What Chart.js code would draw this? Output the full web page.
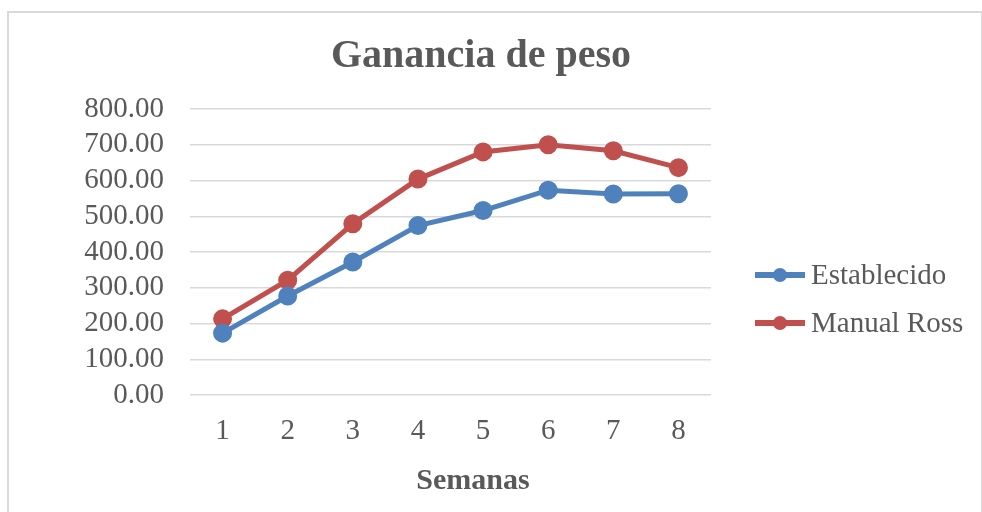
<!DOCTYPE html>
<html>
<head>
<meta charset="utf-8">
<script src="https://cdn.jsdelivr.net/npm/chart.js@4/dist/chart.umd.min.js"></script>
<style>
  body { margin: 0; background: #fff; }
  #frame { position: absolute; left: 7px; top: 11px; width: 972px; height: 520px; border: 2px solid #d9d9d9; }
  #wrap { position: absolute; left: 0; top: 0; width: 982px; height: 512px; }
</style>
</head>
<body>
<div id="frame"></div>
<div id="wrap"><canvas id="chartOne"></canvas></div>
<script>
/* Ganancia de peso por semana */
const semanas = ['1', '2', '3', '4', '5', '6', '7', '8'];
const establecido = [173, 277, 372, 474, 516, 573, 562, 563];
const manualRoss = [213, 321, 479, 604, 680, 700, 683, 636];
const yTicks = [0, 100, 200, 300, 400, 500, 600, 700, 800];

const gris = '#595959';
const fuente = 'Liberation Serif';

// legend drawn by hand so the marker can be a line with a dot on it
const legendLineDot = {
    id: 'legendLineDot',
    afterDraw(chart) {
        const ctx = chart.ctx;
        const area = chart.chartArea;
        ctx.save();
        chart.data.datasets.forEach((ds, i) => {
            const x = area.right + 44;
            const y = area.top + 166 + i * 48;
            ctx.strokeStyle = ds.borderColor;
            ctx.lineWidth = 6;
            ctx.beginPath();
            ctx.moveTo(x, y);
            ctx.lineTo(x + 50, y);
            ctx.stroke();
            ctx.fillStyle = ds.borderColor;
            ctx.beginPath();
            ctx.arc(x + 25, y, 7, 0, Math.PI * 2);
            ctx.fill();
            ctx.fillStyle = gris;
            ctx.font = '29px "' + fuente + '"';
            ctx.textBaseline = 'middle';
            ctx.textAlign = 'left';
            ctx.fillText(ds.label, x + 56, y + 1);
        });
        ctx.restore();
    }
};

const chart1 = document.getElementById('chartOne').getContext('2d');
const pesoChart = new Chart(chart1, {
    type: 'line',
    data: {
        labels: semanas,
        datasets: [{
            label: 'Establecido',
            data: establecido,
            borderColor: '#4f81bd',
            backgroundColor: '#4f81bd',
            borderWidth: 5,
            pointRadius: 7,
            pointHoverRadius: 7,
            tension: 0
        }, {
            label: 'Manual Ross',
            data: manualRoss,
            borderColor: '#c0504d',
            backgroundColor: '#c0504d',
            borderWidth: 5,
            pointRadius: 7,
            pointHoverRadius: 7,
            tension: 0
        }]
    },
    options: {
        responsive: true,
        maintainAspectRatio: false,
        animation: false,
        layout: { padding: { left: 0, right: 20, top: 0, bottom: 0 } },
        plugins: {
            legend: { display: false },
            tooltip: { enabled: false },
            title: {
                display: true,
                text: 'Ganancia de peso',
                color: gris,
                font: { family: fuente, size: 40, weight: 'bold' },
                padding: { top: 33, bottom: 28 }
            }
        },
        scales: {
            x: {
                offset: true,
                grid: { display: false, drawTicks: false },
                border: { display: false },
                afterFit: (s) => { s.height = 117; },
                ticks: {
                    color: gris,
                    padding: 19,
                    font: { family: fuente, size: 29 }
                },
                title: {
                    display: true,
                    // leading no-break spaces move the title a bit right, as in the original
                    text: '\u00a0\u00a0\u00a0\u00a0\u00a0\u00a0Semanas',
                    color: gris,
                    font: { family: fuente, size: 30, weight: 'bold' },
                    padding: { top: 0, bottom: 13 }
                }
            },
            y: {
                min: 0,
                max: 800,
                afterFit: (s) => { s.width = 190; },
                afterBuildTicks: (axis) => {
                    axis.ticks = yTicks.map(v => ({ value: v }));
                },
                grid: { color: '#d9d9d9', lineWidth: 1.5, drawTicks: false },
                border: { display: false },
                ticks: {
                    autoSkip: false,
                    color: gris,
                    padding: 26,
                    font: { family: fuente, size: 29 },
                    callback: (v) => Number(v).toFixed(2)
                }
            },
            // empty axis on the right keeps room for the legend
            yLeyenda: {
                position: 'right',
                afterFit: (s) => { s.width = 251; },
                grid: { display: false, drawTicks: false },
                border: { display: false },
                ticks: { display: false }
            }
        }
    },
    plugins: [legendLineDot]
});
</script>
</body>
</html>
